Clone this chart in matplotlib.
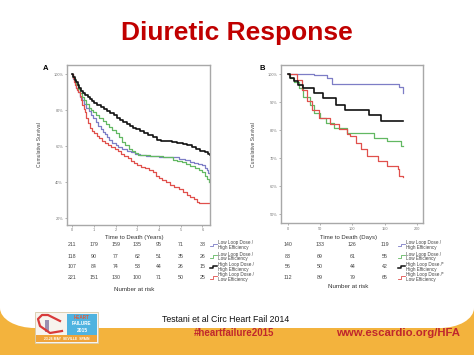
import matplotlib
matplotlib.use("Agg")
import matplotlib.pyplot as plt
from matplotlib.patches import Rectangle, Ellipse
from matplotlib.transforms import blended_transform_factory

# ---------------- data ----------------
# Panel A (years, cumulative survival %)
a_black_t = [0, 0.05, 0.1, 0.18, 0.25, 0.33, 0.42, 0.5, 0.6, 0.7, 0.8, 0.9, 1.0, 1.15, 1.3, 1.45, 1.6, 1.75, 1.9, 2.05,
             2.2, 2.35, 2.5, 2.65, 2.8, 2.95, 3.1, 3.3, 3.5, 3.7, 3.9, 4.1, 4.35, 4.6, 4.85, 5.1, 5.3, 5.5, 5.7, 5.9,
             6.1, 6.25, 6.35]
a_black_s = [100, 98.5, 97, 95.5, 94, 92.5, 91, 89.8, 88.5, 87.3, 86.3, 85.2, 84.2, 83, 81.8, 80.5, 79.4, 78.3, 77.2, 76,
             74.8, 73.6, 72.3, 71.2, 70.2, 69.4, 68.5, 67.3, 66.2, 65, 63.8, 63.2, 62.8, 62.4, 62, 61.5, 60.6, 59.6, 58.3,
             57.4, 56.8, 56, 55.2]
a_green_t = [0, 0.05, 0.1, 0.18, 0.25, 0.35, 0.45, 0.55, 0.65, 0.75, 0.85, 0.97, 1.1, 1.25, 1.4, 1.55, 1.7, 1.85, 2.0,
             2.15, 2.3, 2.45, 2.6, 2.75, 2.9, 3.05, 3.3, 3.6, 3.9, 4.2, 4.45, 4.65, 4.85, 5.05, 5.25, 5.45, 5.65, 5.85,
             6.0, 6.1, 6.2, 6.3]
a_green_s = [100, 98, 96, 94, 92, 89.8, 87.6, 85.5, 83.5, 81.5, 80.2, 79.2, 77.6, 75.8, 74, 72.3, 70.8, 69.2, 67.5, 65.2,
             62.5, 60.5, 58.8, 57.3, 56.2, 55.3, 55, 54.8, 54.5, 54.3, 54, 52.4, 51.9, 51.3, 50.2, 49, 48, 46.8, 45.5,
             43.8, 42, 40.3]
a_blue_t = [0, 0.05, 0.1, 0.18, 0.25, 0.35, 0.45, 0.55, 0.65, 0.75, 0.85, 0.97, 1.1, 1.2, 1.3, 1.4, 1.5, 1.59, 1.7, 1.85,
            2.0, 2.12, 2.3, 2.5, 2.7, 2.9, 3.1, 3.4, 3.7, 4.0, 4.3, 4.6, 4.9, 5.2, 5.43, 5.6, 5.8, 5.97, 6.1, 6.2, 6.28,
            6.35]
a_blue_s = [100, 97.5, 95, 92.5, 90, 87.5, 85.5, 83.5, 81.5, 79.5, 77.5, 75.6, 73.5, 71.5, 69.8, 68, 66.6, 65.3, 63.8, 62,
            60.8, 59.8, 58.6, 57.5, 56.6, 55.8, 55.2, 54.8, 54.5, 54.3, 54.2, 54, 53, 52.2, 51.4, 51, 50.3, 49.6, 48,
            46.8, 45.4, 44.4]
a_red_t = [0, 0.04, 0.08, 0.13, 0.18, 0.23, 0.28, 0.34, 0.4, 0.46, 0.52, 0.58, 0.65, 0.73, 0.82, 0.92, 1.02, 1.13, 1.25,
           1.38, 1.5, 1.65, 1.8, 1.95, 2.1, 2.25, 2.4, 2.55, 2.7, 2.85, 2.97, 3.15, 3.35, 3.55, 3.7, 3.85, 4.0, 4.15, 4.3,
           4.5, 4.7, 4.9, 5.1, 5.28, 5.45, 5.6, 5.74, 5.85, 6.35]
a_red_s = [100, 98, 96, 94, 92.5, 91.3, 90.3, 88, 85.5, 83, 81, 79, 76, 73, 70, 68.6, 67.2, 65.8, 64.5, 63.2, 62, 60.8,
           59.5, 58.4, 57.2, 56, 54.8, 53.4, 52, 50.7, 49.6, 48.8, 48, 47, 45.5, 43.8, 42.2, 41.4, 40.3, 38.8, 37.6, 36.2,
           34.6, 33, 31.8, 30.5, 29.2, 28.5, 28.5]

# Panel B (days, cumulative survival %)
b_blue_t = [0, 40, 61, 69, 165, 172, 178]
b_blue_s = [100, 99.7, 98.6, 96.6, 96.6, 95.6, 93.3]
b_black_t = [0, 3, 10, 16, 24, 40, 55, 74, 89, 126, 144, 178]
b_black_s = [100, 98.6, 97.5, 96.2, 95, 93.3, 91.5, 89.2, 87.4, 85.6, 83.3, 83.3]
b_green_t = [0, 4, 9, 17, 24, 35, 40, 50, 60, 71, 92, 102, 133, 154, 175, 178]
b_green_s = [100, 98.6, 97.4, 95, 92, 89.2, 86.2, 84.4, 82.5, 80.9, 79.1, 79.1, 77.4, 76.2, 74.4, 74.4]
b_red_t = [0, 14, 22, 30, 37, 48, 66, 79, 92, 97, 105, 113, 123, 139, 154, 170, 172, 178]
b_red_s = [100, 98, 94.5, 90.3, 87.4, 84.4, 82.1, 80.3, 78.8, 78, 75.6, 73.2, 70.9, 69.1, 67.3, 66.2, 63.8, 63.2]

a_ticks = [0, 1, 2, 3, 4, 5, 6]
a_yticks = [20, 40, 60, 80, 100]
b_ticks = [0, 50, 100, 150, 200]
b_yticks = [50, 60, 70, 80, 90, 100]

a_risk_blue = [211, 179, 159, 135, 95, 71, 38]
a_risk_green = [118, 90, 77, 62, 51, 35, 26]
a_risk_black = [107, 84, 74, 53, 44, 26, 15]
a_risk_red = [221, 151, 130, 100, 71, 50, 25]
b_risk_x = [0, 50, 100, 150]
b_risk_blue = [140, 133, 126, 119]
b_risk_green = [83, 69, 61, 55]
b_risk_black = [56, 50, 44, 42]
b_risk_red = [112, 89, 79, 65]

a_labels = ["Low Loop Dose /\nHigh Efficiency", "Low Loop Dose /\nLow Efficiency",
            "High Loop Dose /\nHigh Efficiency", "High Loop Dose /\nLow Efficiency"]
b_labels = ["Low Loop Dose /\nHigh Efficiency", "Low Loop Dose /\nLow Efficiency",
            "High Loop Dose /*\nHigh Efficiency", "High Loop Dose /*\nLow Efficiency"]

BLUE = "#7d7dc6"
GREEN = "#62b862"
BLACK = "#111111"
RED = "#e0504c"

plt.rcParams['font.family'] = ['Liberation Sans', 'DejaVu Sans']

W, H = 474, 355
fig = plt.figure(figsize=(W / 100, H / 100), dpi=100)
fig.patch.set_facecolor("white")

# background (pixel coordinates)
bg = fig.add_axes([0, 0, 1, 1], zorder=-5)
bg.set_xlim(0, W)
bg.set_ylim(H, 0)
bg.axis("off")
bg.add_patch(Rectangle((0, 300), W, 55, color="#f3b33d", lw=0))
bg.add_patch(Rectangle((0, 0), W, 308, color="white", lw=0))
bg.add_patch(Rectangle((34, 280), 408, 48, color="white", lw=0))
bg.add_patch(Ellipse((35, 308), 70, 40, color="white", lw=0))
bg.add_patch(Ellipse((440, 308), 68, 40, color="white", lw=0))

# logo
bg.add_patch(Rectangle((35, 312), 63, 31, facecolor="#f7f4ee", edgecolor="#d8c9a8", lw=0.6))
bg.add_patch(Rectangle((67, 314), 30, 21, color="#4fb3e0", lw=0))
bg.add_patch(Rectangle((36, 335), 61, 7, color="#f0a43a", lw=0))
bg.plot([62, 50, 40, 38, 42, 48, 54, 60], [331, 333, 326, 319, 315, 315, 318, 321], color="#d83a3a", lw=1.6)
bg.add_patch(Rectangle((45, 320), 4, 12, color="#9a8fb0", lw=0))
bg.text(82, 317.5, "HEART", fontsize=3.3, color="#e05a3a", weight="bold", ha="center", va="center")
bg.text(82, 323.5, "FAILURE", fontsize=3.3, color="white", weight="bold", ha="center", va="center")
bg.text(82, 330, "2015", fontsize=3.6, color="white", weight="bold", ha="center", va="center")
bg.text(66.5, 338.8, "23-26 MAY  SEVILLE  SPAIN", fontsize=2.4, color="white", weight="bold", ha="center", va="center")

bg.text(226, 320, "Testani et al Circ Heart Fail 2014", fontsize=6.3, color="#111111", ha="center", va="center")
bg.text(234, 333.5, "#heartfailure2015", fontsize=7.0, color="#c0272d", weight="bold",
        ha="center", va="center")
bg.text(398, 333.5, "www.escardio.org/HFA", fontsize=8.2, color="#c0272d", weight="bold",
        ha="center", va="center")

fig.text(237 / W, 1 - 33 / H, "Diuretic Response", fontsize=19, color="#c00000",
         weight="bold", ha="center", va="center")


def setup(ax, xlim, ylim, xticks, yticks):
    ax.set_xlim(*xlim)
    ax.set_ylim(*ylim)
    for s in ax.spines.values():
        s.set_color("#a8a8a8")
        s.set_linewidth(1.0)
    ax.set_xticks(xticks)
    ax.set_yticks(yticks)
    ax.set_yticklabels([f"{v}%" for v in yticks])
    ax.tick_params(labelsize=2.8, length=1.5, width=0.4, colors="#777777", pad=1)


def pxax(l, t, r, b):
    return fig.add_axes([l / W, 1 - b / H, (r - l) / W, (b - t) / H])


# Panel A
axA = pxax(66.7, 65, 210, 225)
setup(axA, (-0.26, 6.35), (16.3, 105.2), a_ticks, a_yticks)
axA.set_xticklabels([str(v) for v in a_ticks])
for t, s, c, lw in [(a_blue_t, a_blue_s, BLUE, 0.9), (a_green_t, a_green_s, GREEN, 0.9),
                    (a_red_t, a_red_s, RED, 0.9), (a_black_t, a_black_s, BLACK, 1.2)]:
    axA.plot(t, s, drawstyle="steps-post", color=c, lw=lw)
axA.set_ylabel("Cumulative Survival", fontsize=3.6, color="#444444", labelpad=8)
fig.text(46 / W, 1 - 68 / H, "A", fontsize=5.5, weight="bold", ha="center", va="center")

# Panel B
axB = pxax(280.7, 65, 422.7, 223.3)
setup(axB, (-10.8, 208.8), (46.8, 103.3), b_ticks, b_yticks)
for t, s, c, lw in [(b_blue_t, b_blue_s, BLUE, 0.9), (b_green_t, b_green_s, GREEN, 0.9),
                    (b_red_t, b_red_s, RED, 0.9), (b_black_t, b_black_s, BLACK, 1.2)]:
    axB.plot(t, s, drawstyle="steps-post", color=c, lw=lw)
axB.set_ylabel("Cumulative Survival", fontsize=3.6, color="#444444", labelpad=8)
fig.text(262 / W, 1 - 68 / H, "B", fontsize=5.5, weight="bold", ha="center", va="center")

# Number at risk tables
row_y = [245, 256.5, 267, 277.3]
colors = [BLUE, GREEN, BLACK, RED]


def risk_table(ax, xs, rows, labels, title, title_x, nar_y, icon_x, text_x):
    tr = blended_transform_factory(ax.transData, fig.transFigure)
    fig.text(title_x / W, 1 - 237 / H, title, fontsize=4.3, color="#333333", ha="center", va="center")
    for vals, y in zip(rows, row_y):
        for x, v in zip(xs, vals):
            ax.text(x, 1 - y / H, str(v), transform=tr, fontsize=3.8, color="#444444",
                    ha="center", va="center", clip_on=False)
    for c, lab, y in zip(colors, labels, row_y):
        yy = 1 - y / H
        lw = 1.1 if c == BLACK else 0.6
        fig.lines.append(plt.Line2D([icon_x / W, (icon_x + 3) / W, (icon_x + 3) / W, (icon_x + 7) / W],
                                    [yy - 1.2 / H, yy - 1.2 / H, yy + 1.2 / H, yy + 1.2 / H],
                                    transform=fig.transFigure, color=c, lw=lw))
        fig.text(text_x / W, yy, lab, fontsize=3.3, color="#444444", ha="left", va="center",
                 linespacing=0.95)
    fig.text(title_x / W, 1 - nar_y / H, "Number at risk", fontsize=4.5, color="#333333",
             ha="center", va="center")


risk_table(axA, a_ticks, [a_risk_blue, a_risk_green, a_risk_black, a_risk_red], a_labels,
           "Time to Death (Years)", 134, 289.5, 210, 218.5)
risk_table(axB, b_risk_x, [b_risk_blue, b_risk_green, b_risk_black, b_risk_red], b_labels,
           "Time to Death (Days)", 348, 287, 398, 406)

fig.savefig("out.png", dpi=100)
